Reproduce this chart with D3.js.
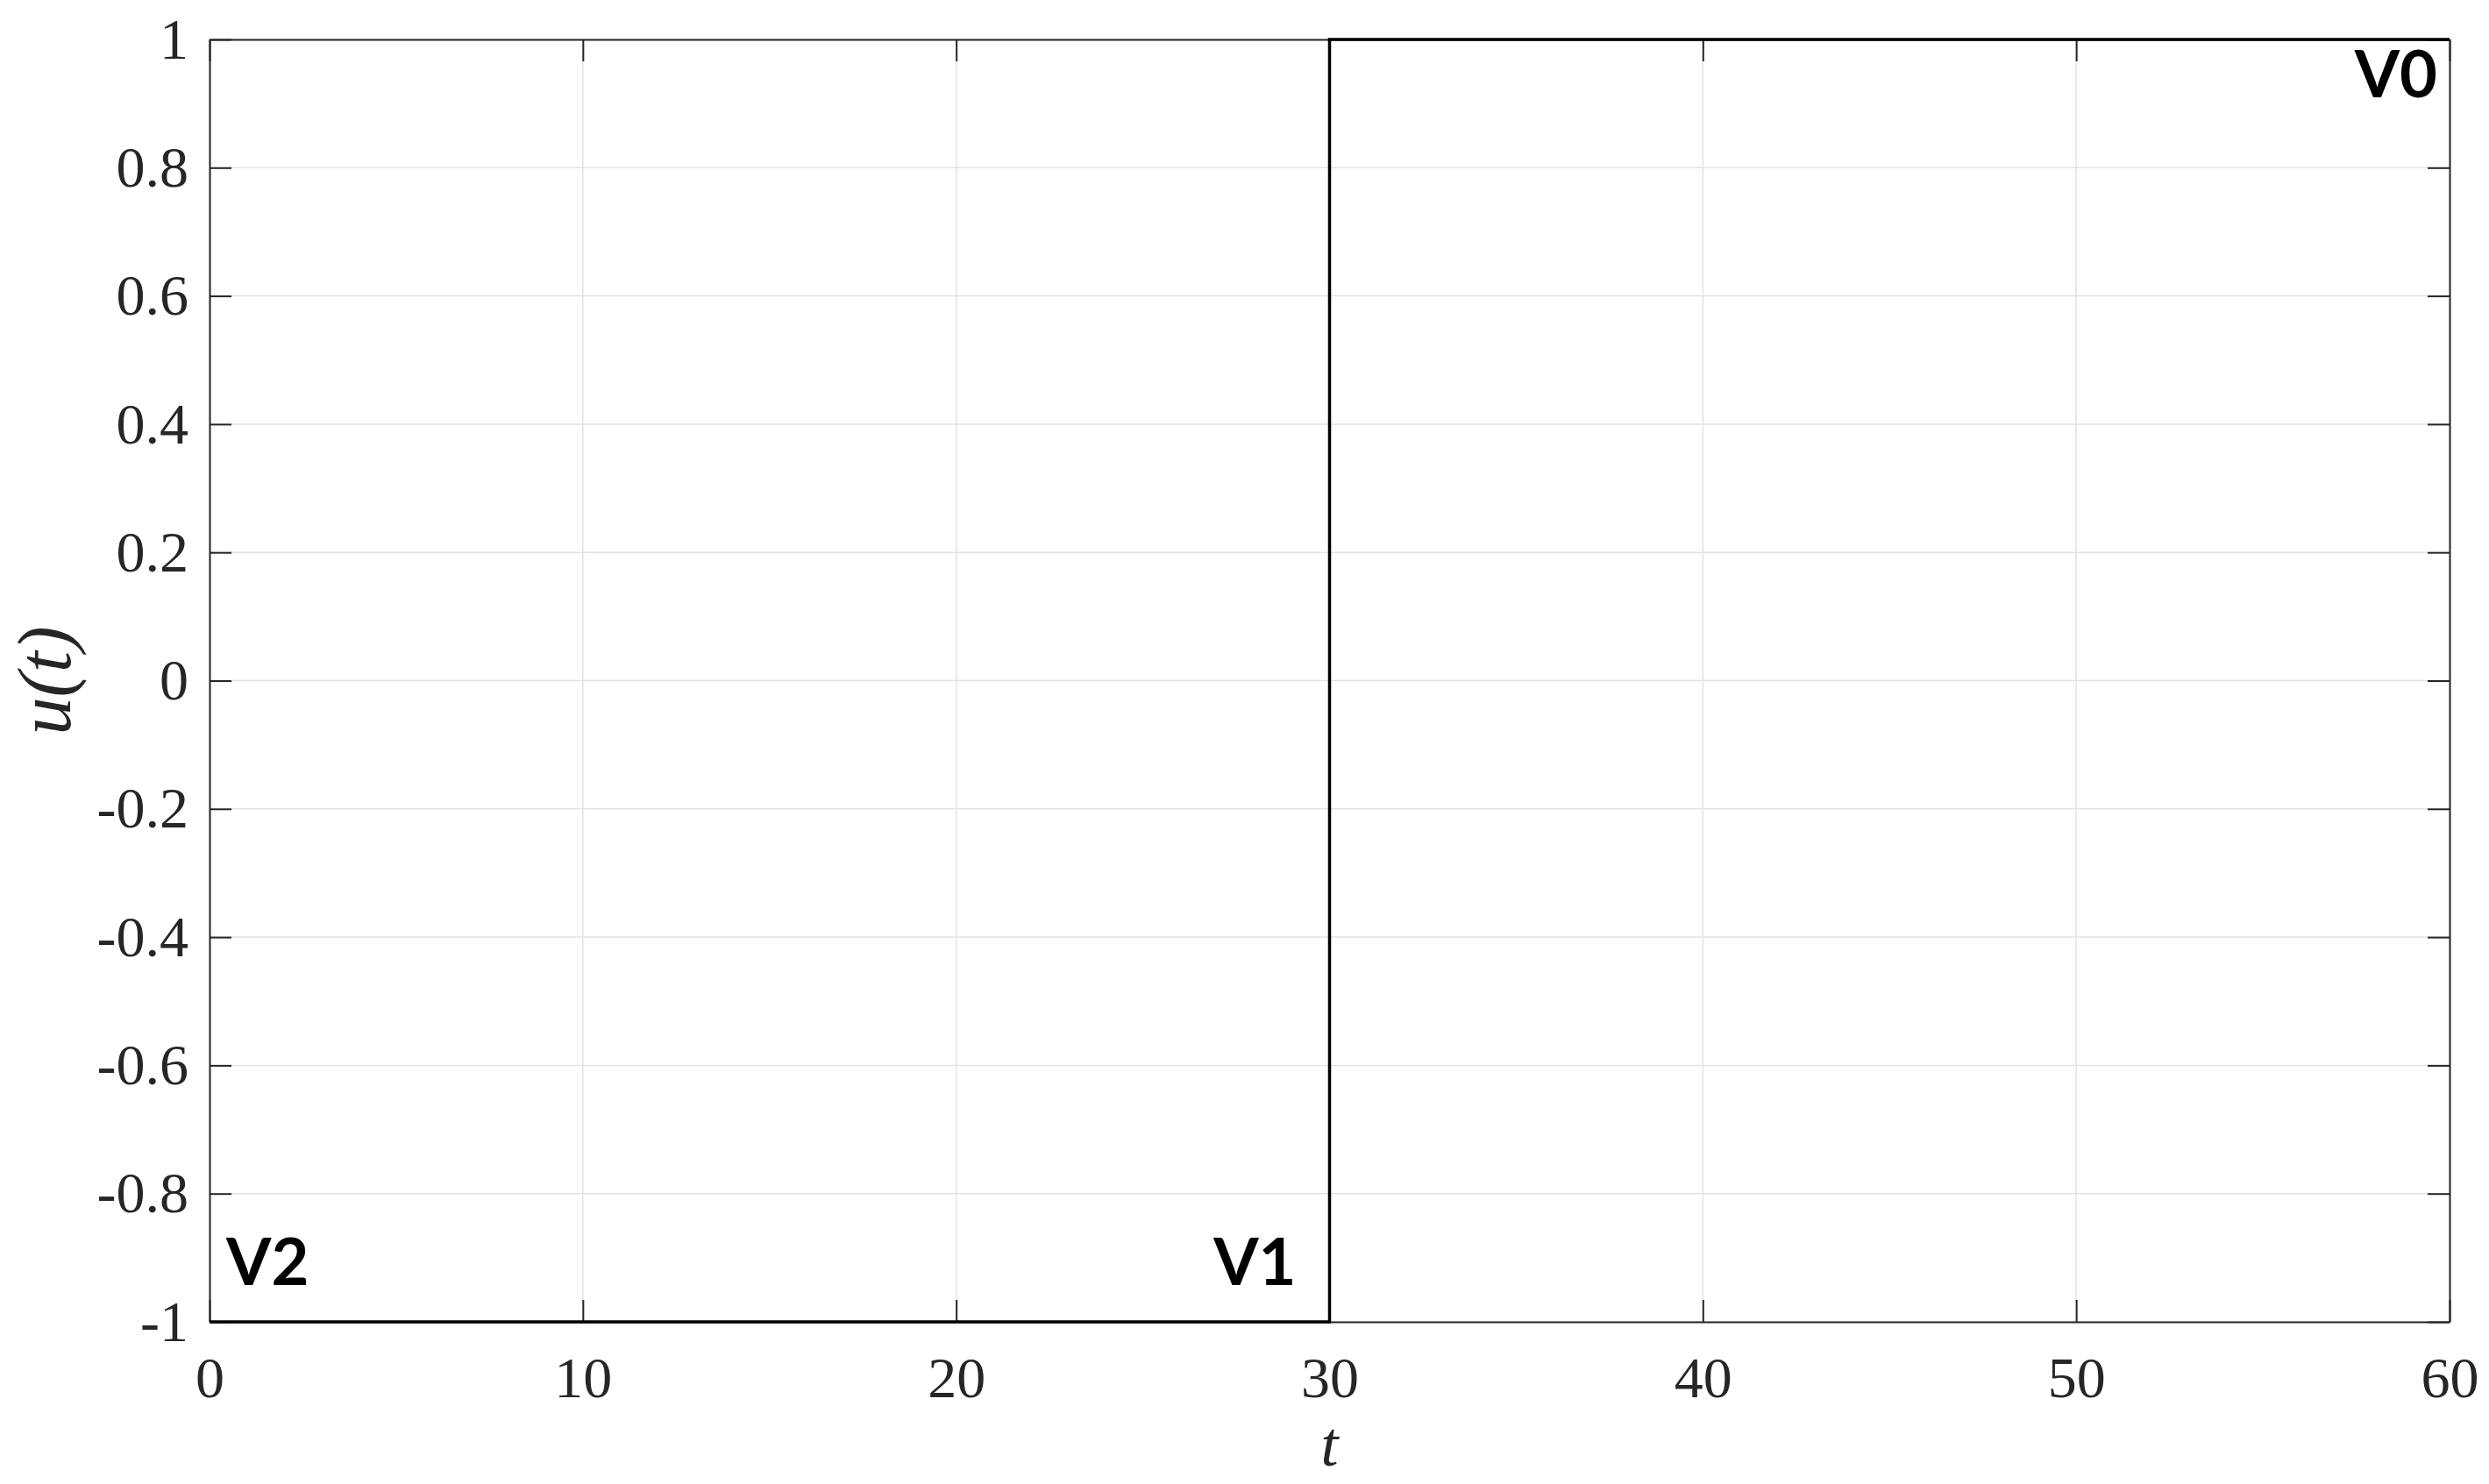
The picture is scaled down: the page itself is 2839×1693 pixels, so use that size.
<!DOCTYPE html>
<html>
<head>
<meta charset="utf-8">
<script src="https://cdn.jsdelivr.net/npm/d3@7"></script>
<style>
  html, body { margin: 0; padding: 0; background: #fff; }
  svg { display: block; }
</style>
</head>
<body>
<svg id="chart" width="2839" height="1693"></svg>
<script>
// ---- data ----
const tValues = [0, 30, 30, 60];
const uValues = [-1, -1, 1, 1];
const xTicks = [0, 10, 20, 30, 40, 50, 60];
const xTickLabels = ["0", "10", "20", "30", "40", "50", "60"];
const yTicks = [-1, -0.8, -0.6, -0.4, -0.2, 0, 0.2, 0.4, 0.6, 0.8, 1];
const yTickLabels = ["-1", "-0.8", "-0.6", "-0.4", "-0.2", "0", "0.2", "0.4", "0.6", "0.8", "1"];
const annotationLabels = ["V0", "V1", "V2"];
const annotationT = [60, 30, 0];
const annotationU = [1, -1, -1];

// ---- layout ----
const W = 2839, H = 1693;
const m = { left: 239, right: W - 2794, top: 45, bottom: H - 1508 };
const svg = d3.select("#chart");
const x = d3.scaleLinear().domain([0, 60]).range([m.left, W - m.right]);
const y = d3.scaleLinear().domain([-1, 1]).range([H - m.bottom, m.top]);

const axisColor = "#262626";
const serif = "'Liberation Serif', 'Times New Roman', serif";

// grid
const grid = svg.append("g");
grid.selectAll("line.gx").data(xTicks).enter().append("line")
  .attr("x1", d => x(d)).attr("x2", d => x(d))
  .attr("y1", y(-1)).attr("y2", y(1))
  .attr("stroke", "#e3e3e3").attr("stroke-width", 1.5);
grid.selectAll("line.gy").data(yTicks).enter().append("line")
  .attr("x1", x(0)).attr("x2", x(60))
  .attr("y1", d => y(d)).attr("y2", d => y(d))
  .attr("stroke", "#e3e3e3").attr("stroke-width", 1.5);

// axes with inward ticks
const tickLen = 25;
const fontSize = 66;
const axB = d3.axisBottom(x).tickValues(xTicks).tickSizeInner(-tickLen).tickSizeOuter(0)
  .tickPadding(39).tickFormat((d, i) => xTickLabels[i]);
const axT = d3.axisTop(x).tickValues(xTicks).tickSizeInner(-tickLen).tickSizeOuter(0).tickFormat("");
const axL = d3.axisLeft(y).tickValues(yTicks).tickSizeInner(-tickLen).tickSizeOuter(0)
  .tickPadding(24).tickFormat((d, i) => yTickLabels[i]);
const axR = d3.axisRight(y).tickValues(yTicks).tickSizeInner(-tickLen).tickSizeOuter(0).tickFormat("");

function style(g) {
  g.selectAll("path").attr("stroke", axisColor).attr("stroke-width", 2);
  g.selectAll("line").attr("stroke", axisColor).attr("stroke-width", 2);
  g.selectAll("text").attr("fill", "#262626").style("font-family", serif).style("font-size", fontSize + "px");
}
svg.append("g").attr("transform", `translate(0,${y(-1)})`).call(axB).call(style);
svg.append("g").attr("transform", `translate(0,${y(1)})`).call(axT).call(style);
svg.append("g").attr("transform", `translate(${x(0)},0)`).call(axL).call(style);
svg.append("g").attr("transform", `translate(${x(60)},0)`).call(axR).call(style);

// data line
const line = d3.line().x((d, i) => x(tValues[i])).y((d, i) => y(uValues[i]));
svg.append("path").datum(tValues).attr("d", line)
  .attr("fill", "none").attr("stroke", "#000").attr("stroke-width", 3.5);

// annotations (offsets are presentation only)
const annDx = [-14, -38, 19];
const annDy = [66, -42, -42];
const annAnchor = ["end", "end", "start"];
svg.selectAll("text.ann").data(annotationLabels).enter().append("text")
  .attr("class", "ann")
  .attr("x", (d, i) => x(annotationT[i]) + annDx[i])
  .attr("y", (d, i) => y(annotationU[i]) + annDy[i])
  .attr("text-anchor", (d, i) => annAnchor[i])
  .style("font-family", "Lato, 'Open Sans', sans-serif")
  .style("font-weight", "bold")
  .style("font-size", "74px")
  .attr("fill", "#000")
  .text(d => d);

// axis labels
svg.append("text")
  .attr("x", x(30)).attr("y", 1672)
  .attr("text-anchor", "middle")
  .style("font-family", serif).style("font-style", "italic").style("font-size", "72px")
  .attr("fill", "#262626").text("t");
svg.append("text")
  .attr("transform", `translate(80,${(y(1) + y(-1)) / 2}) rotate(-90)`)
  .attr("text-anchor", "middle")
  .style("font-family", serif).style("font-style", "italic").style("font-size", "86px")
  .attr("fill", "#262626").text("u(t)");
</script>
</body>
</html>
